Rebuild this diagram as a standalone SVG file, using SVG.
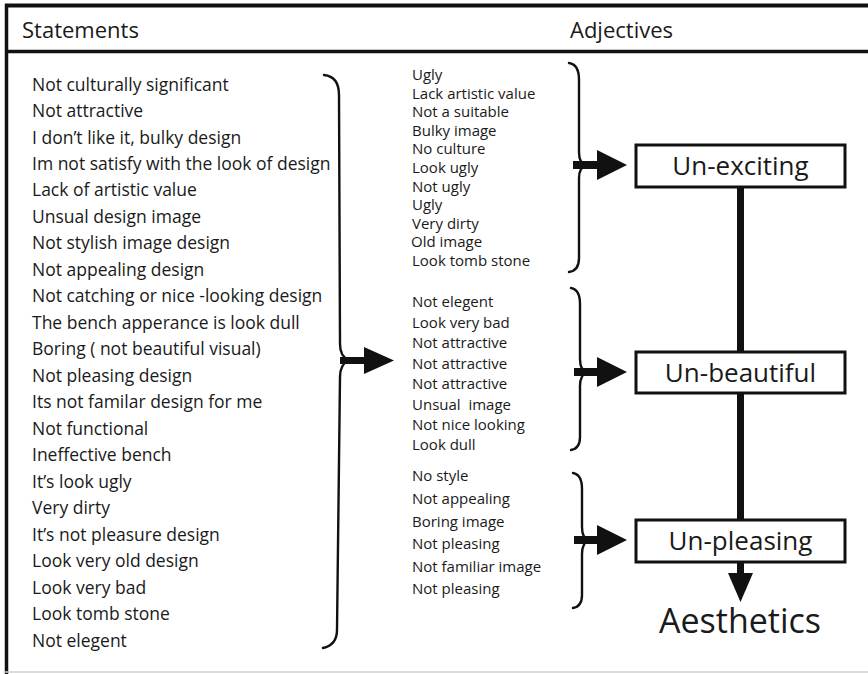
<svg xmlns="http://www.w3.org/2000/svg" width="868" height="674" viewBox="0 0 868 674">
  <style>
    text { font-family: "Open Sans", "Noto Sans", "Liberation Sans", sans-serif; fill: #1a1a1a; }
    .hdr { font-size: 22px; }
    .stmt { font-size: 17.5px; }
    .adj { font-size: 15px; }
    .lbl { font-size: 26px; text-anchor: middle; }
    .big { font-size: 34px; text-anchor: middle; }
    .frame { stroke: #111; fill: none; }
    .brace { stroke: #111; stroke-width: 2.4; fill: none; stroke-linecap: round; }
    .box { fill: #fff; stroke: #111; stroke-width: 3; }
    .shaft { fill: #111; }
    .head { fill: #111; }
  </style>

  <rect width="868" height="674" fill="#fff"/>

  <!-- frame and header -->
  <g id="frame">
    <line class="frame" x1="5" y1="5.5" x2="868" y2="5.5" stroke-width="4"/>
    <line class="frame" x1="6.5" y1="4" x2="6.5" y2="674" stroke-width="3.5"/>
    <line class="frame" x1="5" y1="51.5" x2="868" y2="51.5" stroke-width="3.5"/>
    <line x1="5" y1="672" x2="868" y2="672" stroke="#cfcfcf" stroke-width="1.5"/>
    <text class="hdr" x="22" y="38">Statements</text>
    <text class="hdr" x="570" y="38">Adjectives</text>
  </g>

  <!-- statements column -->
  <g id="statements" class="stmt">
    <text class="stmt" x="32" y="90.5">Not culturally significant</text>
    <text class="stmt" x="32" y="117">Not attractive</text>
    <text class="stmt" x="32" y="143.5">I don’t like it, bulky design</text>
    <text class="stmt" x="32" y="170">Im not satisfy with the look of design</text>
    <text class="stmt" x="32" y="196.4">Lack of artistic value</text>
    <text class="stmt" x="32" y="222.9">Unsual design image</text>
    <text class="stmt" x="32" y="249.4">Not stylish image design</text>
    <text class="stmt" x="32" y="275.9">Not appealing design</text>
    <text class="stmt" x="32" y="302.3">Not catching or nice -looking design</text>
    <text class="stmt" x="32" y="328.8">The bench apperance is look dull</text>
    <text class="stmt" x="32" y="355.3">Boring ( not beautiful visual)</text>
    <text class="stmt" x="32" y="381.8">Not pleasing design</text>
    <text class="stmt" x="32" y="408.3">Its not familar design for me</text>
    <text class="stmt" x="32" y="434.7">Not functional</text>
    <text class="stmt" x="32" y="461.2">Ineffective bench</text>
    <text class="stmt" x="32" y="487.7">It’s look ugly</text>
    <text class="stmt" x="32" y="514.2">Very dirty</text>
    <text class="stmt" x="32" y="540.7">It’s not pleasure design</text>
    <text class="stmt" x="32" y="567.1">Look very old design</text>
    <text class="stmt" x="32" y="593.6">Look very bad</text>
    <text class="stmt" x="32" y="620.1">Look tomb stone</text>
    <text class="stmt" x="32" y="646.6">Not elegent</text>
  </g>

  <!-- adjective groups -->
  <g id="adjectives-exciting">
    <text class="adj" x="412" y="80">Ugly</text>
    <text class="adj" x="412" y="98.6">Lack artistic value</text>
    <text class="adj" x="412" y="117.2">Not a suitable</text>
    <text class="adj" x="412" y="135.8">Bulky image</text>
    <text class="adj" x="412" y="154.4">No culture</text>
    <text class="adj" x="412" y="173">Look ugly</text>
    <text class="adj" x="412" y="191.6">Not ugly</text>
    <text class="adj" x="412" y="210.2">Ugly</text>
    <text class="adj" x="412" y="228.8">Very dirty</text>
    <text class="adj" x="411" y="247.4">Old image</text>
    <text class="adj" x="412" y="266">Look tomb stone</text>
  </g>
  <g id="adjectives-beautiful">
    <text class="adj" x="412" y="307.3">Not elegent</text>
    <text class="adj" x="412" y="327.7">Look very bad</text>
    <text class="adj" x="412" y="348.2">Not attractive</text>
    <text class="adj" x="412" y="368.6">Not attractive</text>
    <text class="adj" x="412" y="389">Not attractive</text>
    <text class="adj" x="412" y="409.5" xml:space="preserve">Unsual  image</text>
    <text class="adj" x="412" y="429.9">Not nice looking</text>
    <text class="adj" x="412" y="450.3">Look dull</text>
  </g>
  <g id="adjectives-pleasing">
    <text class="adj" x="412" y="481.3">No style</text>
    <text class="adj" x="412" y="503.9">Not appealing</text>
    <text class="adj" x="412" y="526.5">Boring image</text>
    <text class="adj" x="412" y="549.1">Not pleasing</text>
    <text class="adj" x="412" y="571.7">Not familiar image</text>
    <text class="adj" x="412" y="594.3">Not pleasing</text>
  </g>

  <!-- category boxes -->
  <g id="un-exciting">
    <rect class="box" x="636" y="145" width="209" height="42"/>
    <text class="lbl" x="740.5" y="175">Un-exciting</text>
  </g>
  <g id="un-beautiful">
    <rect class="box" x="636" y="352" width="209" height="41"/>
    <text class="lbl" x="740.5" y="381.5">Un-beautiful</text>
  </g>
  <g id="un-pleasing">
    <rect class="box" x="636" y="520" width="209" height="42"/>
    <text class="lbl" x="740.5" y="550">Un-pleasing</text>
  </g>
  <g id="aesthetics">
    <text class="big" x="740" y="633">Aesthetics</text>
  </g>

  <!-- braces, arrows and links -->
  <g id="connectors">
    <!-- statements brace -->
    <path class="brace" d="M324,75 C334,76 339,82 339,95 L340,344 C340,353 343,358 349,360 C343,363 340,368 340,377 L337,630 C337,641 332,646 323,648"/>
    <rect class="shaft" x="340" y="357" width="26" height="7"/>
    <polygon class="head" points="364,347 394,360.5 364,374"/>

    <!-- adjective braces -->
    <path class="brace" d="M569,63 C576,64 579,70 579,80 L579,152 C579,160 581,164 586,165 C581,167 579,171 579,178 L579,258 C579,266 576,271 569,272"/>
    <path class="brace" d="M571,288 C577,289 580,295 580,304 L580,359 C580,367 582,371 587,372 C582,374 580,378 580,386 L580,437 C580,445 577,449 571,450"/>
    <path class="brace" d="M573,473 C579,474 582,480 582,489 L582,527 C582,535 584,539 589,540 C584,542 582,546 582,554 L582,595 C582,603 579,607 573,608"/>

    <!-- arrows into boxes -->
    <rect class="shaft" x="573" y="161" width="26" height="8"/>
    <polygon class="head" points="597,150 627,165 597,180"/>
    <rect class="shaft" x="574" y="368" width="25" height="8"/>
    <polygon class="head" points="597,357 627,372 597,387"/>
    <rect class="shaft" x="574" y="536" width="25" height="8"/>
    <polygon class="head" points="597,525 627,540 597,555"/>

    <!-- vertical links between boxes -->
    <rect class="shaft" x="737" y="187" width="7" height="165"/>
    <rect class="shaft" x="737" y="393" width="7" height="127"/>
    <rect class="shaft" x="737" y="562" width="7" height="13"/>
    <polygon class="head" points="728,573 753,573 740.5,602"/>
  </g>
</svg>
